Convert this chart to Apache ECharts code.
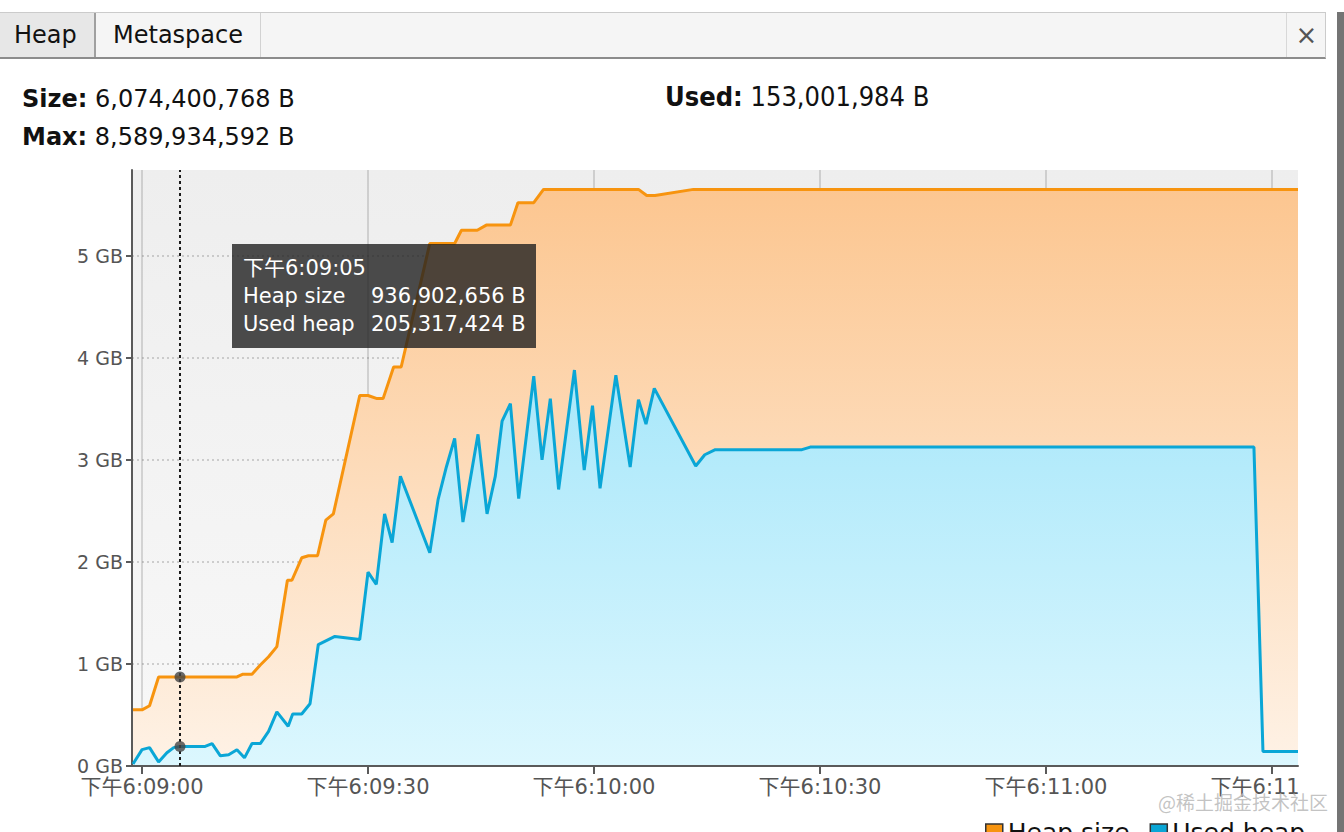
<!DOCTYPE html>
<html>
<head>
<meta charset="utf-8">
<script src="https://cdn.jsdelivr.net/npm/echarts@6/dist/echarts.min.js"></script>
<style>
html,body{margin:0;padding:0;width:1344px;height:832px;overflow:hidden;background:#fff;font-family:'DejaVu Sans','Noto Sans CJK SC',sans-serif;color:#111;}
#chart{position:absolute;left:0;top:0;width:1344px;height:832px;}
.tabbar{position:absolute;left:0;top:12px;width:1325px;height:44px;background:#f5f5f5;border-top:1px solid #cbcbcb;border-bottom:2px solid #8c8c8c;border-right:1px solid #cbcbcb;}
.tab{position:absolute;top:0;height:44px;line-height:44px;font-size:24px;color:#111;}
.tab.heap{left:0;width:80px;padding-left:14px;background:#e7e7e7;border-right:2px solid #a0a0a0;}
.tab.meta{left:96px;width:147px;padding-left:17px;border-right:1px solid #d2d2d2;}
.close{position:absolute;left:1286px;top:0;width:39px;height:44px;line-height:44px;text-align:center;font-size:26px;color:#555;border-left:1px solid #d8d8d8;}
.stat{position:absolute;font-size:24px;line-height:30px;color:#111;}
.stat b{font-weight:700;}
.stat.cond{font-family:'DejaVu Sans Condensed','DejaVu Sans',sans-serif;font-size:27px;}
.rbar{position:absolute;left:1337px;top:12px;width:7px;height:820px;background:#747474;}
.clip{position:absolute;left:1300px;top:770px;width:37px;height:32px;background:#fff;}
.wm{position:absolute;left:1158px;top:788px;font-family:'Noto Sans CJK SC',sans-serif;font-size:19px;color:rgba(185,185,185,0.85);}
</style>
</head>
<body>
<div id="chart"></div>
<div class="tabbar">
  <div class="tab heap">Heap</div>
  <div class="tab meta">Metaspace</div>
  <div class="close">×</div>
</div>
<div class="stat" id="sizeStat" style="left:22px;top:84px;"></div>
<div class="stat" id="maxStat" style="left:22px;top:122px;"></div>
<div class="stat cond" id="usedStat" style="left:665px;top:82px;"></div>
<div class="clip"></div>
<div class="rbar"></div>
<div class="wm">@稀土掘金技术社区</div>
<script>
// ---- data ----
const tickSeconds = [0, 30, 60, 90, 120, 150];
const timeLabels = ['下午6:09:00', '下午6:09:30', '下午6:10:00', '下午6:10:30', '下午6:11:00', '下午6:11:30'];
const yTickValues = [0, 1, 2, 3, 4, 5];

// seconds after 下午6:09:00
const heapSizeTime = [-1.2, 0.0, 1.0, 2.2, 12.6, 13.4, 14.6, 15.7, 16.8, 17.9, 19.3, 19.9, 21.2, 22.1, 23.3, 24.4, 25.4, 28.9, 30.0, 31.2, 32.0, 33.4, 34.4, 38.2, 41.5, 42.4, 44.5, 45.7, 48.9, 49.9, 52.0, 53.3, 65.9, 67.0, 68.1, 73.2, 153.45];
const heapSizeGB   = [0.55, 0.55, 0.59, 0.8726, 0.8726, 0.90, 0.90, 0.99, 1.07, 1.17, 1.82, 1.82, 2.04, 2.06, 2.06, 2.41, 2.47, 3.63, 3.63, 3.60, 3.60, 3.91, 3.91, 5.12, 5.12, 5.25, 5.25, 5.30, 5.30, 5.52, 5.52, 5.65, 5.65, 5.59, 5.59, 5.65, 5.65];

const usedHeapTime = [-1.2, 0.0, 1.0, 2.2, 3.3, 4.2, 5.04, 8.3, 9.3, 10.4, 11.5, 12.6, 13.6, 14.6, 15.7, 16.8, 17.9, 19.4, 20.0, 21.2, 22.3, 23.4, 25.6, 28.9, 30.0, 31.1, 32.2, 33.2, 34.3, 38.2, 39.3, 40.4, 41.5, 42.6, 44.6, 45.8, 46.9, 47.8, 48.9, 50.0, 52.0, 53.1, 54.2, 55.3, 57.4, 58.7, 59.8, 60.8, 62.9, 64.8, 65.9, 66.9, 68.0, 73.5, 74.7, 76.1, 87.6, 88.7, 147.6, 148.8, 153.45];
const usedHeapGB   = [0.02, 0.16, 0.18, 0.04, 0.13, 0.18, 0.1912, 0.19, 0.22, 0.10, 0.11, 0.16, 0.08, 0.22, 0.22, 0.34, 0.53, 0.39, 0.51, 0.51, 0.61, 1.19, 1.27, 1.24, 1.90, 1.78, 2.47, 2.19, 2.84, 2.09, 2.61, 2.93, 3.21, 2.39, 3.25, 2.47, 2.84, 3.38, 3.55, 2.62, 3.82, 3.00, 3.60, 2.71, 3.88, 2.90, 3.53, 2.72, 3.83, 2.93, 3.59, 3.35, 3.70, 2.94, 3.05, 3.10, 3.10, 3.125, 3.125, 0.1425, 0.1425];

// hovered sample (tooltip)
const tooltipSec = 5.04;
const tooltipTimeLabel = '下午6:09:05';
const tooltipHeapBytes = 936902656;
const tooltipUsedBytes = 205317424;

// header stats
const sizeBytes = 6074400768;
const maxBytes = 8589934592;
const usedBytes = 153001984;

// ---- build ----
const GiB = 1073741824;
const fmtB = b => b.toLocaleString('en-US') + ' B';
document.getElementById('sizeStat').innerHTML = '<b>Size:</b> ' + fmtB(sizeBytes);
document.getElementById('maxStat').innerHTML = '<b>Max:</b> ' + fmtB(maxBytes);
document.getElementById('usedStat').innerHTML = '<b>Used:</b> ' + fmtB(usedBytes);

const zip = (a, b) => a.map((v, i) => [v, b[i]]);
const font = "'DejaVu Sans','Noto Sans CJK SC',sans-serif";
const chart = echarts.init(document.getElementById('chart'), null, {renderer: 'svg'});
const G = echarts.graphic.LinearGradient;
const tipFont = '21px ' + font;

chart.setOption({
  animation: false,
  textStyle: {fontFamily: font},
  grid: {
    left: 132, right: 46, top: 170, bottom: 66, containLabel: false, show: true, borderWidth: 0,
    backgroundColor: new G(0, 0, 0, 1, [{offset: 0, color: '#eeeeee'}, {offset: 1, color: '#f8f8f8'}])
  },
  legend: {
    data: ['Heap size', 'Used heap'], left: 980, top: 815, icon: 'rect',
    itemWidth: 17, itemHeight: 17, itemGap: 20,
    textStyle: {fontSize: 25, color: '#111', fontFamily: font},
    itemStyle: {borderColor: '#333', borderWidth: 1.5}
  },
  xAxis: {
    type: 'value', min: -1.33, max: 153.45, z: 3,
    axisLine: {show: true, onZero: false, lineStyle: {color: '#5a5a5a', width: 2}},
    axisTick: {show: true, customValues: tickSeconds, length: 8, lineStyle: {color: '#5a5a5a', width: 2}},
    axisLabel: {customValues: tickSeconds, formatter: v => timeLabels[tickSeconds.indexOf(v)], fontSize: 21, color: '#555', margin: 10, fontFamily: font},
    splitLine: {show: true, lineStyle: {color: 'rgba(110,110,110,0.25)', width: 2}}
  },
  yAxis: {
    type: 'value', min: 0, max: 5.84, z: 3,
    axisLine: {show: true, onZero: false, lineStyle: {color: '#5a5a5a', width: 2}},
    axisTick: {show: true, customValues: yTickValues, length: 6, lineStyle: {color: '#5a5a5a', width: 2}},
    axisLabel: {customValues: yTickValues, formatter: '{value} GB', fontSize: 19, color: '#555', margin: 9, fontFamily: font},
    splitLine: {show: true, lineStyle: {color: 'rgba(150,150,150,0.55)', width: 1.5, type: [2, 3]}}
  },
  series: [
    {
      name: 'Heap size', type: 'line', data: zip(heapSizeTime, heapSizeGB), symbol: 'none',
      lineStyle: {color: '#f7940f', width: 3}, itemStyle: {color: '#f7940f'},
      areaStyle: {color: new G(0, 0, 0, 1, [{offset: 0, color: '#fcc690'}, {offset: 1, color: '#fef2e6'}]), opacity: 1},
      markLine: {
        silent: true, symbol: 'none', label: {show: false},
        lineStyle: {color: '#1a1a1a', type: [3, 3], width: 2},
        data: [{xAxis: tooltipSec}]
      }
    },
    {
      name: 'Used heap', type: 'line', data: zip(usedHeapTime, usedHeapGB), symbol: 'none',
      lineStyle: {color: '#0aa6d6', width: 3}, itemStyle: {color: '#0aa6d6'},
      areaStyle: {color: new G(0, 0, 0, 1, [{offset: 0, color: '#a8e7fa'}, {offset: 1, color: '#dcf7fe'}]), opacity: 1}
    },
    {
      name: 'pointer', type: 'scatter', z: 10, symbolSize: 11, itemStyle: {color: '#454545'},
      data: [[tooltipSec, tooltipHeapBytes / GiB], [tooltipSec, tooltipUsedBytes / GiB]]
    }
  ],
  graphic: {
    z: 100,
    elements: [{
      type: 'group', left: 232, top: 244, z: 100,
      children: [
        {type: 'rect', z: 100, shape: {x: 0, y: 0, width: 304, height: 104}, style: {fill: 'rgba(32,32,32,0.8)'}},
        {type: 'text', z: 101, x: 11, y: 24, style: {text: tooltipTimeLabel, fill: '#fff', font: tipFont, verticalAlign: 'middle'}},
        {type: 'text', z: 101, x: 11, y: 52, style: {text: 'Heap size', fill: '#fff', font: tipFont, verticalAlign: 'middle'}},
        {type: 'text', z: 101, x: 139, y: 52, style: {text: fmtB(tooltipHeapBytes), fill: '#fff', font: tipFont, verticalAlign: 'middle'}},
        {type: 'text', z: 101, x: 11, y: 80, style: {text: 'Used heap', fill: '#fff', font: tipFont, verticalAlign: 'middle'}},
        {type: 'text', z: 101, x: 139, y: 80, style: {text: fmtB(tooltipUsedBytes), fill: '#fff', font: tipFont, verticalAlign: 'middle'}}
      ]
    }]
  }
});
</script>
</body>
</html>
